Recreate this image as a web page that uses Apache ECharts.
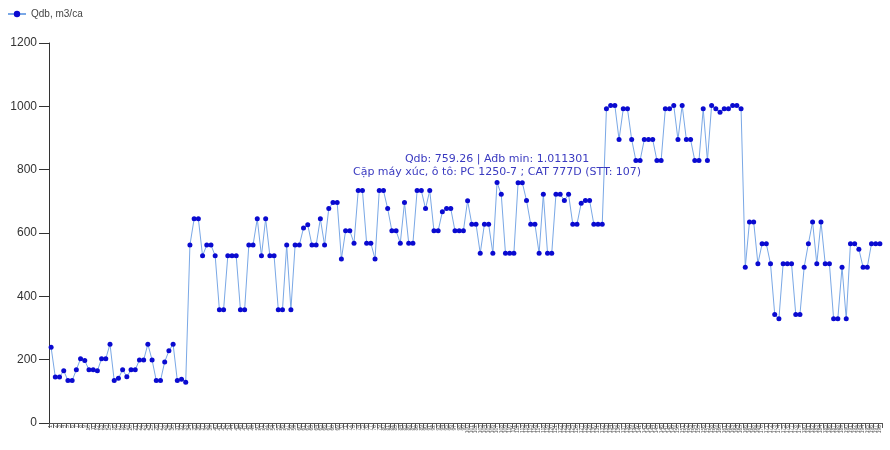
<!DOCTYPE html>
<html>
<head>
<meta charset="utf-8">
<script src="https://cdn.jsdelivr.net/npm/echarts@6/dist/echarts.min.js"></script>
<style>html,body{margin:0;padding:0;background:#fff}#c{width:890px;height:450px}</style>
</head>
<body>
<div id="c"></div>
<script>
const seriesName = 'Qdb, m3/ca';
const qdbValues = [
239,145,145,165,134,134,168,203,197,168,
168,165,203,203,249,134,141,168,146,168,
168,199,199,249,199,134,134,193,228,249,
134,138,129,562,645,645,528,562,562,528,
358,358,528,528,528,358,358,562,562,645,
528,645,528,528,358,358,562,358,562,562,
616,626,562,562,645,562,677,696,696,518,
607,607,568,734,734,568,568,518,734,734,
677,607,607,568,696,568,568,734,734,677,
734,607,607,667,677,677,607,607,607,702,
628,628,536,628,628,536,759.26,722,536,536,
536,759,759,703,628,628,536,722,536,536,
722,722,703,722,628,628,694,703,703,628,
628,628,992,1003,1003,895,992,992,895,829,
829,895,895,895,829,829,992,992,1003,895,
1003,895,895,829,829,992,829,1003,992,981,
992,992,1003,1003,992,492,635,635,503,566,
566,503,343,329,503,503,503,343,343,492,
566,635,503,635,503,503,329,329,492,329,
566,566,549,492,492,566,566,566
];
const categories = qdbValues.map((v, i) => String(i + 1));
const yTicks = [0, 200, 400, 600, 800, 1000, 1200];
const highlightIndex = 106; // STT 107
const highlightLines = ['Qdb: 759.26 | Ađb min: 1.011301', 'Cặp máy xúc, ô tô: PC 1250-7 ; CAT 777D (STT: 107)'];

const data = qdbValues.map((v, i) => {
  if (i === highlightIndex) {
    return {
      value: v,
      label: {
        show: true, position: 'top', distance: 1,
        formatter: highlightLines.join('\n'),
        color: '#3a3ac0', fontSize: 11, lineHeight: 13,
        fontFamily: 'DejaVu Sans', align: 'center'
      }
    };
  }
  return v;
});

const chart = echarts.init(document.getElementById('c'), null, {renderer: 'canvas'});
chart.setOption({
  animation: false,
  backgroundColor: '#ffffff',
  legend: {
    show: true, left: 2, top: 4,
    itemWidth: 18, itemHeight: 8, itemGap: 4,
    textStyle: {fontSize: 10, color: '#444', fontFamily: 'Liberation Sans'},
    data: [seriesName]
  },
  grid: {left: 49, right: 8, top: 43, bottom: 27, containLabel: false},
  xAxis: {
    type: 'category', data: categories, boundaryGap: true,
    axisLine: {lineStyle: {color: '#555', width: 1}},
    axisTick: {show: true, interval: 0, length: 5, lineStyle: {color: '#555'}},
    axisLabel: {interval: 0, rotate: 90, fontSize: 5, color: '#555', margin: 2, fontFamily: 'Liberation Sans'},
    splitLine: {show: false}
  },
  yAxis: {
    type: 'value', min: yTicks[0], max: yTicks[yTicks.length - 1], interval: 200,
    axisLine: {show: true, lineStyle: {color: '#333', width: 1}},
    axisTick: {show: true, length: 10, lineStyle: {color: '#333'}},
    axisLabel: {fontSize: 12, color: '#333', margin: 12, fontFamily: 'Liberation Sans', formatter: v => String(v)},
    splitLine: {show: false}
  },
  series: [{
    name: seriesName, type: 'line', data: data,
    symbol: 'circle', symbolSize: 5, showAllSymbol: true,
    lineStyle: {color: '#7aa8e6', width: 1},
    itemStyle: {color: '#0a0ad0', borderWidth: 0},
    emphasis: {disabled: true}
  }]
});
</script>
</body>
</html>
